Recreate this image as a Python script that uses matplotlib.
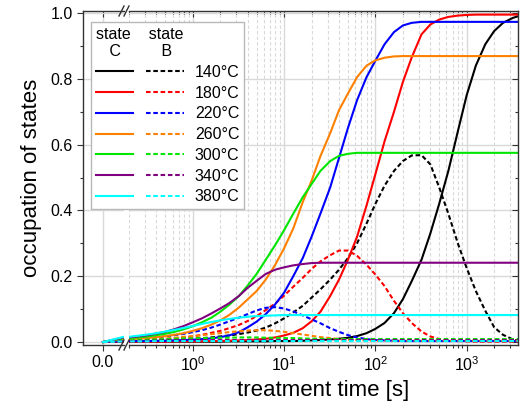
import matplotlib
matplotlib.use('Agg')
import matplotlib.pyplot as plt
from matplotlib.legend_handler import HandlerTuple
from matplotlib.ticker import LogLocator, MultipleLocator, NullFormatter, FormatStrFormatter

plt.rcParams['font.family'] = ['Liberation Sans', 'DejaVu Sans']
plt.rcParams['mathtext.default'] = 'regular'

# treatment time [s]; t = 0 sits on the linear part left of the axis break
T = [0, 0.2, 0.25, 0.32, 0.4, 0.5, 0.63, 0.8,
     1, 1.26, 1.6, 2, 2.5, 3.2, 4, 5, 6.3, 8,
     10, 12.6, 16, 20, 25, 32, 40, 50, 63, 80,
     100, 126, 160, 200, 250, 320, 400, 500, 630, 800,
     1000, 1260, 1600, 2000, 2500, 3200, 3650]

TEMPS = ['140°C', '180°C', '220°C', '260°C', '300°C', '340°C', '380°C']
COLORS = ['#000000', '#ff0000', '#0000ff', '#ff8000', '#00e600', '#800080', '#00ffff']

# state C (solid lines)
C140 = [0, 0.001, 0.001, 0.001, 0.001, 0.001, 0.001, 0.001,
        0.001, 0.001, 0.001, 0.001, 0.002, 0.002, 0.002, 0.002, 0.002, 0.003,
        0.003, 0.003, 0.004, 0.005, 0.006, 0.008, 0.01, 0.013, 0.018, 0.027,
        0.04, 0.058, 0.088, 0.13, 0.185, 0.25, 0.33, 0.42, 0.52, 0.64,
        0.75, 0.84, 0.905, 0.945, 0.97, 0.985, 0.99]
C180 = [0, 0.001, 0.001, 0.001, 0.001, 0.001, 0.002, 0.002,
        0.002, 0.002, 0.003, 0.003, 0.004, 0.005, 0.006, 0.008, 0.01, 0.014,
        0.02, 0.028, 0.042, 0.063, 0.092, 0.14, 0.19, 0.25, 0.32, 0.415,
        0.51, 0.61, 0.7, 0.79, 0.865, 0.935, 0.965, 0.98, 0.988, 0.992,
        0.994, 0.995, 0.995, 0.995, 0.995, 0.995, 0.995]
C220 = [0, 0.003, 0.003, 0.003, 0.004, 0.004, 0.005, 0.006,
        0.007, 0.009, 0.011, 0.015, 0.02, 0.03, 0.045, 0.062, 0.085, 0.115,
        0.15, 0.2, 0.255, 0.32, 0.39, 0.47, 0.56, 0.65, 0.735, 0.805,
        0.855, 0.905, 0.942, 0.962, 0.97, 0.973, 0.973, 0.973, 0.973, 0.973,
        0.973, 0.973, 0.973, 0.973, 0.973, 0.973, 0.973]
C260 = [0, 0.009, 0.01, 0.012, 0.015, 0.018, 0.022, 0.027,
        0.034, 0.042, 0.053, 0.066, 0.082, 0.105, 0.13, 0.155, 0.19, 0.235,
        0.285, 0.345, 0.425, 0.49, 0.565, 0.635, 0.705, 0.755, 0.805, 0.84,
        0.856, 0.864, 0.868, 0.869, 0.869, 0.869, 0.869, 0.869, 0.869, 0.869,
        0.869, 0.869, 0.869, 0.869, 0.869, 0.869, 0.869]
C300 = [0, 0.012, 0.014, 0.017, 0.021, 0.025, 0.031, 0.039,
        0.048, 0.06, 0.074, 0.092, 0.113, 0.14, 0.172, 0.207, 0.25, 0.295,
        0.34, 0.39, 0.44, 0.48, 0.52, 0.55, 0.566, 0.572, 0.575, 0.575,
        0.575, 0.575, 0.575, 0.575, 0.575, 0.575, 0.575, 0.575, 0.575, 0.575,
        0.575, 0.575, 0.575, 0.575, 0.575, 0.575, 0.575]
C340 = [0, 0.014, 0.017, 0.021, 0.026, 0.031, 0.039, 0.049,
        0.06, 0.072, 0.087, 0.102, 0.118, 0.14, 0.165, 0.186, 0.207, 0.22,
        0.227, 0.233, 0.237, 0.24, 0.241, 0.241, 0.241, 0.241, 0.241, 0.241,
        0.241, 0.241, 0.241, 0.241, 0.241, 0.241, 0.241, 0.241, 0.241, 0.241,
        0.241, 0.241, 0.241, 0.241, 0.241, 0.241, 0.241]
C380 = [0, 0.016, 0.019, 0.023, 0.027, 0.032, 0.037, 0.043,
        0.049, 0.055, 0.061, 0.066, 0.07, 0.074, 0.077, 0.079, 0.08, 0.081,
        0.082, 0.082, 0.082, 0.082, 0.082, 0.082, 0.082, 0.082, 0.082, 0.082,
        0.082, 0.082, 0.082, 0.082, 0.082, 0.082, 0.082, 0.082, 0.082, 0.082,
        0.082, 0.082, 0.082, 0.082, 0.082, 0.082, 0.082]

# state B (dashed lines)
B140 = [0, 0.003, 0.003, 0.004, 0.005, 0.006, 0.007, 0.008,
        0.01, 0.012, 0.014, 0.017, 0.02, 0.024, 0.029, 0.035, 0.044, 0.057,
        0.072, 0.09, 0.11, 0.135, 0.16, 0.19, 0.22, 0.255, 0.3, 0.36,
        0.42, 0.475, 0.52, 0.55, 0.567, 0.568, 0.54, 0.47, 0.39, 0.3,
        0.225, 0.155, 0.095, 0.045, 0.022, 0.008, 0.004]
B180 = [0, 0.0035, 0.004, 0.005, 0.007, 0.009, 0.011, 0.014,
        0.017, 0.022, 0.028, 0.034, 0.042, 0.052, 0.064, 0.079, 0.097, 0.117,
        0.141, 0.168, 0.195, 0.222, 0.245, 0.264, 0.278, 0.278, 0.262, 0.235,
        0.205, 0.17, 0.125, 0.088, 0.058, 0.032, 0.017, 0.009, 0.005, 0.003,
        0.002, 0.001, 0.001, 0.001, 0.001, 0.001, 0.001]
B220 = [0, 0.008, 0.01, 0.012, 0.014, 0.017, 0.021, 0.025,
        0.03, 0.036, 0.044, 0.053, 0.063, 0.074, 0.085, 0.096, 0.104, 0.106,
        0.102, 0.093, 0.081, 0.069, 0.057, 0.042, 0.031, 0.021, 0.014, 0.009,
        0.006, 0.005, 0.004, 0.003, 0.003, 0.003, 0.003, 0.003, 0.003, 0.003,
        0.003, 0.003, 0.003, 0.003, 0.003, 0.003, 0.003]
B260 = [0, 0.006, 0.007, 0.008, 0.01, 0.011, 0.013, 0.016,
        0.018, 0.021, 0.024, 0.027, 0.03, 0.033, 0.035, 0.036, 0.036, 0.034,
        0.031, 0.027, 0.023, 0.019, 0.015, 0.012, 0.009, 0.007, 0.006, 0.005,
        0.004, 0.004, 0.004, 0.004, 0.004, 0.004, 0.004, 0.004, 0.004, 0.004,
        0.004, 0.004, 0.004, 0.004, 0.004, 0.004, 0.004]
B300 = [0, 0.005, 0.006, 0.007, 0.008, 0.009, 0.01, 0.011,
        0.011, 0.012, 0.012, 0.013, 0.013, 0.014, 0.014, 0.014, 0.013, 0.013,
        0.012, 0.012, 0.011, 0.01, 0.01, 0.009, 0.009, 0.009, 0.009, 0.009,
        0.009, 0.009, 0.009, 0.009, 0.009, 0.009, 0.009, 0.009, 0.009, 0.009,
        0.009, 0.009, 0.009, 0.009, 0.009, 0.009, 0.009]
B340 = [0, 0.003, 0.003, 0.004, 0.004, 0.005, 0.005, 0.006,
        0.006, 0.006, 0.006, 0.006, 0.006, 0.006, 0.006, 0.006, 0.006, 0.006,
        0.006, 0.006, 0.006, 0.006, 0.006, 0.006, 0.006, 0.006, 0.006, 0.006,
        0.006, 0.006, 0.006, 0.006, 0.006, 0.006, 0.006, 0.006, 0.006, 0.006,
        0.006, 0.006, 0.006, 0.006, 0.006, 0.006, 0.006]
B380 = [0, 0.002, 0.002, 0.002, 0.003, 0.003, 0.003, 0.003,
        0.003, 0.003, 0.003, 0.003, 0.003, 0.003, 0.003, 0.003, 0.003, 0.003,
        0.003, 0.003, 0.003, 0.003, 0.003, 0.003, 0.003, 0.003, 0.003, 0.003,
        0.003, 0.003, 0.003, 0.003, 0.003, 0.003, 0.003, 0.003, 0.003, 0.003,
        0.003, 0.003, 0.003, 0.003, 0.003, 0.003, 0.003]

STATE_C = [C140, C180, C220, C260, C300, C340, C380]
STATE_B = [B140, B180, B220, B260, B300, B340, B380]

W, H = 522, 409
GRID = '#d9d9d9'
SPINE = '#333333'
DASH = (0, (2.2, 1.3))

fig = plt.figure(figsize=(W / 100, H / 100), dpi=100)
ax0 = fig.add_axes([83 / W, 64 / H, 41 / W, 334 / H])   # linear part (t = 0)
ax1 = fig.add_axes([129 / W, 64 / H, 389 / W, 334 / H])  # log part

handles = []
for ax in (ax0, ax1):
    for c, b, col in zip(STATE_C, STATE_B, COLORS):
        lc, = ax.plot(T, c, color=col, lw=1.5)
        lb, = ax.plot(T, b, color=col, lw=1.5, linestyle=DASH)
        if ax is ax1:
            handles.append((lc, lb))

for ax in (ax0, ax1):
    ax.set_ylim(-0.009, 1.006)
    ax.yaxis.set_major_locator(MultipleLocator(0.2))
    ax.yaxis.set_minor_locator(MultipleLocator(0.1))
    ax.set_axisbelow(True)
    ax.grid(which='major', color=GRID, lw=1.0)
    for s in ax.spines.values():
        s.set_color(SPINE)
        s.set_linewidth(1.0)
    ax.tick_params(which='both', colors=SPINE, labelcolor='black', labelsize=11.5, width=0.8)
    ax.tick_params(which='major', length=4)
    ax.tick_params(which='minor', length=2.5)

# linear part
ax0.set_xlim(-0.19, 0.2)
ax0.set_xticks([0.0])
ax0.xaxis.set_major_formatter(FormatStrFormatter('%.1f'))
ax0.yaxis.set_major_formatter(FormatStrFormatter('%.1f'))
ax0.spines['right'].set_visible(False)
ax0.tick_params(axis='x', which='both', top=True)
ax0.tick_params(axis='y', which='both', left=True, right=False, direction='out')
ax0.set_ylabel('occupation of states', fontsize=16, labelpad=6)

# log part
ax1.set_xscale('log')
ax1.set_xlim(0.2, 3650)
ax1.xaxis.set_major_locator(LogLocator(base=10, numticks=10))
ax1.xaxis.set_minor_locator(LogLocator(base=10, subs=range(2, 10), numticks=20))
ax1.xaxis.set_minor_formatter(NullFormatter())
ax1.grid(which='minor', axis='x', color=GRID, lw=0.8, linestyle=(0, (3, 2)))
ax1.spines['left'].set_visible(False)
ax1.tick_params(axis='y', which='both', left=False, right=True, labelleft=False, direction='in')
ax1.tick_params(axis='x', which='both', top=True, bottom=True)
ax1.set_xlabel('treatment time [s]', fontsize=16, labelpad=4)

# top ticks point inward, bottom ticks outward
for ax in (ax0, ax1):
    for tk in ax.xaxis.get_major_ticks() + ax.xaxis.get_minor_ticks():
        tk.tick1line.set_marker(3)
        tk.tick2line.set_marker(3)

# axis break marks
for y in (64, 398):
    for x in (119, 124):
        fig.add_artist(plt.Line2D([x / W, (x + 5) / W], [(y - 5) / H, (y + 5) / H],
                                  color=SPINE, lw=1.0))

leg = fig.legend(handles=handles, labels=TEMPS,
                 handler_map={tuple: HandlerTuple(ndivide=None, pad=0.8)},
                 loc='upper left', bbox_to_anchor=(91 / W, 1 - 22 / H),
                 bbox_transform=fig.transFigure, borderaxespad=0, borderpad=0.3,
                 handlelength=5.5, handletextpad=0.7, labelspacing=0.36,
                 title='state    state\n   C         B', alignment='left',
                 title_fontsize=11.5, fontsize=11.5, fancybox=False,
                 edgecolor='#b8b8b8', framealpha=1)
leg.get_frame().set_linewidth(1.0)

fig.savefig('out.png', dpi=100)
